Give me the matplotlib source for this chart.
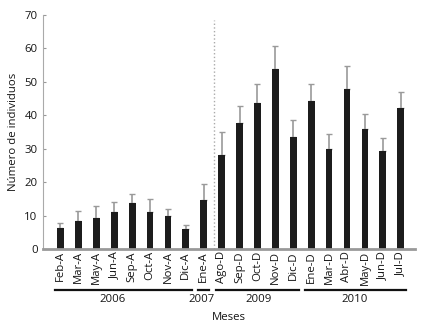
import matplotlib
matplotlib.use("Agg")
import matplotlib.pyplot as plt
import numpy as np

plt.rcParams['font.family'] = ['Open Sans', 'DejaVu Sans']

meses = ["Feb-A", "Mar-A", "May-A", "Jun-A", "Sep-A", "Oct-A", "Nov-A", "Dic-A",
         "Ene-A", "Ago-D", "Sep-D", "Oct-D", "Nov-D", "Dic-D",
         "Ene-D", "Mar-D", "Abr-D", "May-D", "Jun-D", "Jul-D"]
individuos = [6.3, 8.3, 9.3, 11.1, 13.8, 11.1, 10.0, 6.0,
              14.7, 28.0, 37.8, 43.7, 53.9, 33.6,
              44.3, 30.0, 47.9, 35.9, 29.4, 42.3]
error = [1.5, 3.2, 3.5, 3.0, 2.7, 4.0, 1.9, 1.3,
         4.6, 6.9, 5.1, 5.6, 6.9, 5.1,
         5.0, 4.5, 6.9, 4.6, 3.9, 4.6]

# years: label, first index, last index, label position
anios = [("2006", 0, 7, 2.9), ("2007", 8, 8, 7.88),
         ("2009", 9, 13, 11.04), ("2010", 14, 19, 16.4)]

txt = '#151515'
fs = 8.2

fig = plt.figure(figsize=(4.27, 3.28), dpi=100)
ax = fig.add_axes([0.101, 0.241, 0.871, 0.713])

x = np.arange(len(meses))
ax.bar(x, individuos, width=0.38, color='#1c1c1c', zorder=2)
ax.errorbar(x, individuos, yerr=[np.zeros(len(error)), error], fmt='none',
            ecolor='#9a9a9a', elinewidth=1.2, capsize=2.5, capthick=1, zorder=1)

ax.axvline(8.6, color='#aaaaaa', linestyle=':', linewidth=1, ymax=0.98, zorder=0)

ax.set_xlim(-0.97, 19.8)
ax.set_ylim(0, 70)
ax.set_yticks(range(0, 71, 10))
ax.set_xticks(x)
ax.set_xticklabels(meses, rotation=90, fontsize=fs, color=txt)
ax.tick_params(axis='x', length=0, pad=1.5)
ax.tick_params(axis='y', direction='in', length=2.5, color='#999999',
               labelsize=fs, labelcolor=txt, pad=4)

for side in ['top', 'right']:
    ax.spines[side].set_visible(False)
ax.spines['left'].set_color('#aaaaaa')
ax.spines['bottom'].set_color('#999999')
ax.spines['bottom'].set_linewidth(2)

ax.set_ylabel("Número de individuos", fontsize=fs, color=txt, labelpad=4)

trans = ax.get_xaxis_transform()
for nombre, i0, i1, pos in anios:
    ax.plot([i0 - 0.32, i1 + 0.32], [-0.174, -0.174], color='#111111',
            linewidth=1.6, transform=trans, clip_on=False)
    ax.text(pos, -0.216, nombre, transform=trans, ha='center', va='center',
            fontsize=fs, color=txt)

ax.text(0.5, -0.295, "Meses", transform=ax.transAxes, ha='center', va='center',
        fontsize=fs, color=txt)

plt.savefig("out.png", dpi=100)
